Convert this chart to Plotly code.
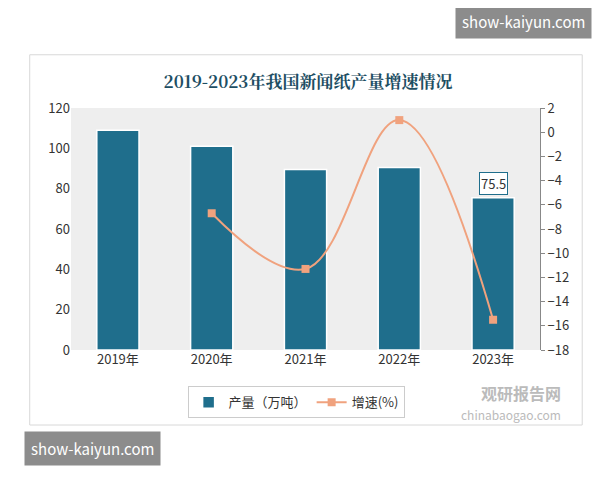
import plotly.graph_objects as go

years = ["2019年", "2020年", "2021年", "2022年", "2023年"]
output = [109, 101, 89.5, 90.5, 75.5]
growth_years = ["2020年", "2021年", "2022年", "2023年"]
growth = [-6.7, -11.3, 1.0, -15.5]

bar_color = "#1f6e8c"
line_color = "#f0a27e"

fig = go.Figure()
fig.add_trace(go.Bar(
    x=years, y=output, name="产量（万吨）", marker_color=bar_color,
    marker_line=dict(color="#ffffff", width=1.5), width=0.45,
))
fig.add_trace(go.Scatter(
    x=growth_years, y=growth, name="增速(%)", yaxis="y2", mode="lines+markers",
    line=dict(color=line_color, width=2, shape="spline", smoothing=1.1),
    marker=dict(symbol="square", size=8, color=line_color),
))
fig.add_annotation(x="2023年", y=75.5, text="75.5", showarrow=False, yshift=14,
                   bordercolor="#1f6e8c", borderwidth=1, bgcolor="white",
                   font=dict(size=13, color="#333"))

# outer frame
fig.add_shape(type="rect", xref="paper", yref="paper", x0=-0.088, x1=1.09, y0=-0.31, y1=1.22,
              line=dict(color="#d8d8d8", width=1), layer="below")
# watermarks
fig.add_annotation(xref="paper", yref="paper", x=1.11, y=1.43, xanchor="right", showarrow=False,
                   text="show-kaiyun.com", bgcolor="#8c8c8c", font=dict(color="white", size=15), borderpad=6)
fig.add_annotation(xref="paper", yref="paper", x=-0.1, y=-0.48, xanchor="left", showarrow=False,
                   text="show-kaiyun.com", bgcolor="#8c8c8c", font=dict(color="white", size=15), borderpad=6)
fig.add_annotation(xref="paper", yref="paper", x=1.05, y=-0.12, xanchor="right", yanchor="top",
                   showarrow=False, text="<b>观研报告网</b>", font=dict(color="#bbbbbb", size=16))
fig.add_annotation(xref="paper", yref="paper", x=1.05, y=-0.225, xanchor="right", yanchor="top",
                   showarrow=False, text="chinabaogao.com", font=dict(color="#bbbbbb", size=12))

fig.update_layout(
    width=600, height=480,
    margin=dict(l=63, r=68, t=100, b=138),
    paper_bgcolor="white", plot_bgcolor="#eeeeee",
    title=dict(text="<b>2019-2023年我国新闻纸产量增速情况</b>", x=0.5, y=0.845, xanchor="center",
               yanchor="middle",
               font=dict(family="Noto Serif CJK SC, Noto Sans CJK SC", size=17, color="#1d4e63")),
    font=dict(family="Noto Sans CJK SC, Noto Sans", size=13, color="#333"),
    bargap=0.5,
    xaxis=dict(showgrid=False, ticks="", showline=False),
    yaxis=dict(range=[0, 120], dtick=20, showgrid=False, zeroline=False, showline=False,
               ticks=""),
    yaxis2=dict(range=[-18, 2], dtick=2, overlaying="y", side="right", showgrid=False,
                zeroline=False, showline=True, linecolor="#888", ticks="outside",
                ticklen=4, tickcolor="#888"),
    legend=dict(orientation="h", x=0.48, xanchor="center", y=-0.15, yanchor="top",
                bordercolor="#cccccc", borderwidth=1, font=dict(size=13)),
)

fig.write_html("out.html")
